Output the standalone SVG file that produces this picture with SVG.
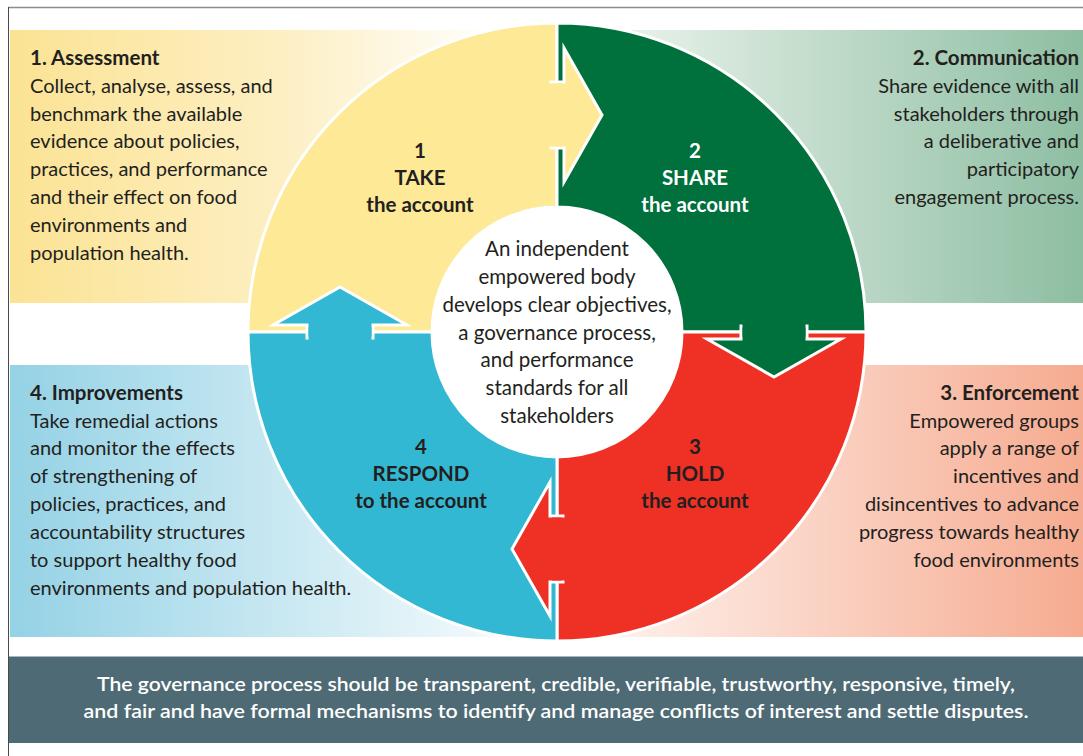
<svg xmlns="http://www.w3.org/2000/svg" width="1083" height="756" viewBox="0 0 1083 756">
  <defs>
    <linearGradient id="gYellow" gradientUnits="userSpaceOnUse" x1="10" y1="0" x2="500" y2="0">
      <stop offset="0" stop-color="#fbe394"/>
      <stop offset="0.55" stop-color="#fdefc2"/>
      <stop offset="1" stop-color="#ffffff"/>
    </linearGradient>
    <linearGradient id="gGreen" gradientUnits="userSpaceOnUse" x1="570" y1="0" x2="1083" y2="0">
      <stop offset="0" stop-color="#f4f8f2"/>
      <stop offset="1" stop-color="#8dbea2"/>
    </linearGradient>
    <linearGradient id="gRed" gradientUnits="userSpaceOnUse" x1="600" y1="0" x2="1083" y2="0">
      <stop offset="0" stop-color="#fef3ee"/>
      <stop offset="1" stop-color="#f6ab90"/>
    </linearGradient>
    <linearGradient id="gBlue" gradientUnits="userSpaceOnUse" x1="10" y1="0" x2="560" y2="0">
      <stop offset="0" stop-color="#94d2e5"/>
      <stop offset="1" stop-color="#ffffff"/>
    </linearGradient>
    <style>
      .txt { font-family: Lato, "Liberation Sans", sans-serif; fill: #231f20; font-size: 20px; }
      .core { font-size: 20.5px; }
      .head { font-weight: 700; font-size: 20.5px; }
      .end { text-anchor: end; }
      .mid { text-anchor: middle; }
      .lbl { font-family: Lato, "Liberation Sans", sans-serif; font-weight: 700; font-size: 20.5px; text-anchor: middle; fill: #231f20; }
      .lbl.light { fill: #ffffff; }
      .sector { stroke: #ffffff; stroke-width: 3; stroke-linejoin: miter; }
      .arrow { stroke: #ffffff; stroke-width: 3; stroke-linejoin: miter; }
      .yellow { fill: #fde996; }
      .green { fill: #00703c; }
      .red { fill: #ee3124; }
      .blue { fill: #32b8d3; }
      .band { font-family: Lato, "Liberation Sans", sans-serif; font-weight: 600; font-size: 20px; fill: #ffffff; text-anchor: middle; }
    </style>
  </defs>

  <rect width="1083" height="756" fill="#ffffff"/>

  <!-- frame -->
  <line x1="8" y1="7.5" x2="1083" y2="7.5" stroke="#8c8c8c" stroke-width="1.5"/>
  <line x1="8.5" y1="7" x2="8.5" y2="756" stroke="#4a4a4a" stroke-width="1"/>

  <!-- background panels -->
  <rect x="10" y="30" width="547" height="273" fill="url(#gYellow)"/>
  <rect x="557" y="30" width="526" height="273" fill="url(#gGreen)"/>
  <rect x="557" y="365" width="526" height="272" fill="url(#gRed)"/>
  <rect x="10" y="365" width="547" height="272" fill="url(#gBlue)"/>

  <!-- cycle quadrants -->
  <g id="take">
    <path class="sector yellow" d="M248,332 A309,309 0 0 1 557,23 L557,207 A125,125 0 0 0 432,332 Z"/>
    <text class="lbl" x="420" y="158">1</text>
    <text class="lbl" x="420" y="185">TAKE</text>
    <text class="lbl" x="420" y="212">the account</text>
  </g>
  <g id="share">
    <path class="sector green" d="M557,23 A309,309 0 0 1 866,332 L682,332 A125,125 0 0 0 557,207 Z"/>
    <text class="lbl light" x="695" y="158">2</text>
    <text class="lbl light" x="695" y="185">SHARE</text>
    <text class="lbl light" x="695" y="212">the account</text>
  </g>
  <g id="hold">
    <path class="sector red" d="M866,332 A309,309 0 0 1 557,641 L557,457 A125,125 0 0 0 682,332 Z"/>
    <text class="lbl" x="695" y="454">3</text>
    <text class="lbl" x="695" y="481">HOLD</text>
    <text class="lbl" x="695" y="508">the account</text>
  </g>
  <g id="respond">
    <path class="sector blue" d="M557,641 A309,309 0 0 1 248,332 L432,332 A125,125 0 0 0 557,457 Z"/>
    <text class="lbl" x="421" y="454">4</text>
    <text class="lbl" x="421" y="481">RESPOND</text>
    <text class="lbl" x="421" y="508">to the account</text>
  </g>

  <!-- arrows linking each step to the next -->
  <g id="connectors">
    <polygon class="arrow yellow" points="551,82 564,82 564,48 602,115 564,182 564,148 551,148"/>
    <rect class="yellow" x="549" y="83.5" width="13" height="63"/>
    <polygon class="arrow green" points="741,326 741,339 707,339 774,377 841,339 807,339 807,326"/>
    <rect class="green" x="742.5" y="324" width="63" height="13"/>
    <polygon class="arrow red" points="563,516 550,516 550,482 512,549 550,616 550,582 563,582"/>
    <rect class="red" x="552" y="517.5" width="13" height="63"/>
    <polygon class="arrow blue" points="307,338 307,325 273,325 340,287 407,325 373,325 373,338"/>
    <rect class="blue" x="308.5" y="327" width="63" height="13"/>
  </g>

  <!-- centre -->
  <g id="centre">
    <circle cx="557" cy="332" r="124" fill="#ffffff"/>
    <text class="txt core mid" x="557" y="256">An independent</text>
    <text class="txt core mid" x="557" y="284">empowered body</text>
    <text class="txt core mid" x="557" y="312">develops clear objectives,</text>
    <text class="txt core mid" x="557" y="339.5">a governance process,</text>
    <text class="txt core mid" x="557" y="367">and performance</text>
    <text class="txt core mid" x="557" y="395">standards for all</text>
    <text class="txt core mid" x="557" y="422.5">stakeholders</text>
  </g>

  <!-- descriptions -->
  <g id="assessment">
    <text class="txt head" x="30" y="65">1. Assessment</text>
    <text class="txt" x="30" y="93">Collect, analyse, assess, and</text>
    <text class="txt" x="30" y="120.5">benchmark the available</text>
    <text class="txt" x="30" y="148">evidence about policies,</text>
    <text class="txt" x="30" y="176">practices, and performance</text>
    <text class="txt" x="30" y="204">and their effect on food</text>
    <text class="txt" x="30" y="232">environments and</text>
    <text class="txt" x="30" y="260">population health.</text>
  </g>
  <g id="communication">
    <text class="txt head end" x="1079" y="65">2. Communication</text>
    <text class="txt end" x="1079" y="93">Share evidence with all</text>
    <text class="txt end" x="1079" y="120.5">stakeholders through</text>
    <text class="txt end" x="1079" y="148">a deliberative and</text>
    <text class="txt end" x="1079" y="176">participatory</text>
    <text class="txt end" x="1079" y="204">engagement process.</text>
  </g>
  <g id="enforcement">
    <text class="txt head end" x="1079" y="400">3. Enforcement</text>
    <text class="txt end" x="1079" y="427.5">Empowered groups</text>
    <text class="txt end" x="1079" y="455">apply a range of</text>
    <text class="txt end" x="1079" y="483">incentives and</text>
    <text class="txt end" x="1079" y="511">disincentives to advance</text>
    <text class="txt end" x="1079" y="539">progress towards healthy</text>
    <text class="txt end" x="1079" y="567">food environments</text>
  </g>
  <g id="improvements">
    <text class="txt head" x="30" y="399.5">4. Improvements</text>
    <text class="txt" x="30" y="427.5">Take remedial actions</text>
    <text class="txt" x="30" y="455">and monitor the effects</text>
    <text class="txt" x="30" y="483">of strengthening of</text>
    <text class="txt" x="30" y="511">policies, practices, and</text>
    <text class="txt" x="30" y="539">accountability structures</text>
    <text class="txt" x="30" y="567">to support healthy food</text>
    <text class="txt" x="30" y="595">environments and population health.</text>
  </g>

  <!-- governance principles band -->
  <g id="principles">
    <rect x="9" y="656" width="1074" height="87" fill="#4e6a75"/>
    <line x1="9" y1="656.5" x2="1083" y2="656.5" stroke="#a9b6bb" stroke-width="1"/>
    <text class="band" x="556" y="691" textLength="918" lengthAdjust="spacingAndGlyphs">The governance process should be transparent, credible, verifiable, trustworthy, responsive, timely,</text>
    <text class="band" x="556" y="718" textLength="945" lengthAdjust="spacingAndGlyphs">and fair and have formal mechanisms to identify and manage conflicts of interest and settle disputes.</text>
  </g>
</svg>
